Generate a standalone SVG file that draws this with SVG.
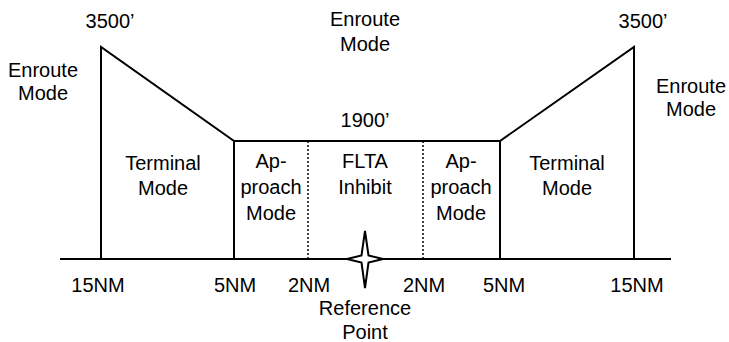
<svg xmlns="http://www.w3.org/2000/svg" width="729" height="342" viewBox="0 0 729 342">
<style>
text{font-family:"Liberation Sans",Arial,sans-serif;font-size:20px;fill:#000;text-anchor:middle}
.ln{stroke:#000;stroke-width:2;fill:none}
.dot{stroke:#000;stroke-width:1.5;stroke-dasharray:2,2;fill:none}
</style>
<rect width="729" height="342" fill="#fff"/>
<g id="connectors">
<line class="ln" x1="60" y1="259" x2="671" y2="259"/>
<polyline class="ln" points="101,259 101,47 234,141 234,259"/>
<line class="ln" x1="234" y1="141" x2="500" y2="141"/>
<polyline class="ln" points="500,259 500,141 634,47 634,259"/>
<line class="dot" x1="308" y1="141" x2="308" y2="259"/>
<line class="dot" x1="423" y1="141" x2="423" y2="259"/>
</g>
<g id="reference-point">
<path d="M365,231 L368.5,255.5 L383,259 L368.5,262.5 L365,288 L361.5,262.5 L347,259 L361.5,255.5 Z" fill="#fff" stroke="#000" stroke-width="2" stroke-linejoin="miter"/>
<text x="365" y="315">Reference</text>
<text x="365" y="339">Point</text>
</g>
<g id="alt-left"><text x="110" y="28">3500’</text></g>
<g id="alt-right"><text x="643" y="28">3500’</text></g>
<g id="alt-mid"><text x="365" y="127">1900’</text></g>
<g id="enroute-left"><text x="43" y="77">Enroute</text><text x="43" y="100">Mode</text></g>
<g id="enroute-mid"><text x="365" y="26">Enroute</text><text x="365" y="51">Mode</text></g>
<g id="enroute-right"><text x="691" y="93">Enroute</text><text x="691" y="116">Mode</text></g>
<g id="terminal-left"><text x="163" y="170">Terminal</text><text x="163" y="195">Mode</text></g>
<g id="approach-left"><text x="271" y="168">Ap-</text><text x="271" y="194">proach</text><text x="271" y="220">Mode</text></g>
<g id="flta"><text x="365" y="168">FLTA</text><text x="365" y="194">Inhibit</text></g>
<g id="approach-right"><text x="461" y="168">Ap-</text><text x="461" y="194">proach</text><text x="461" y="220">Mode</text></g>
<g id="terminal-right"><text x="567" y="170">Terminal</text><text x="567" y="195">Mode</text></g>
<g id="distances">
<text x="98" y="292">15NM</text>
<text x="235" y="292">5NM</text>
<text x="309" y="292">2NM</text>
<text x="424" y="292">2NM</text>
<text x="504" y="292">5NM</text>
<text x="637" y="292">15NM</text>
</g>
</svg>
